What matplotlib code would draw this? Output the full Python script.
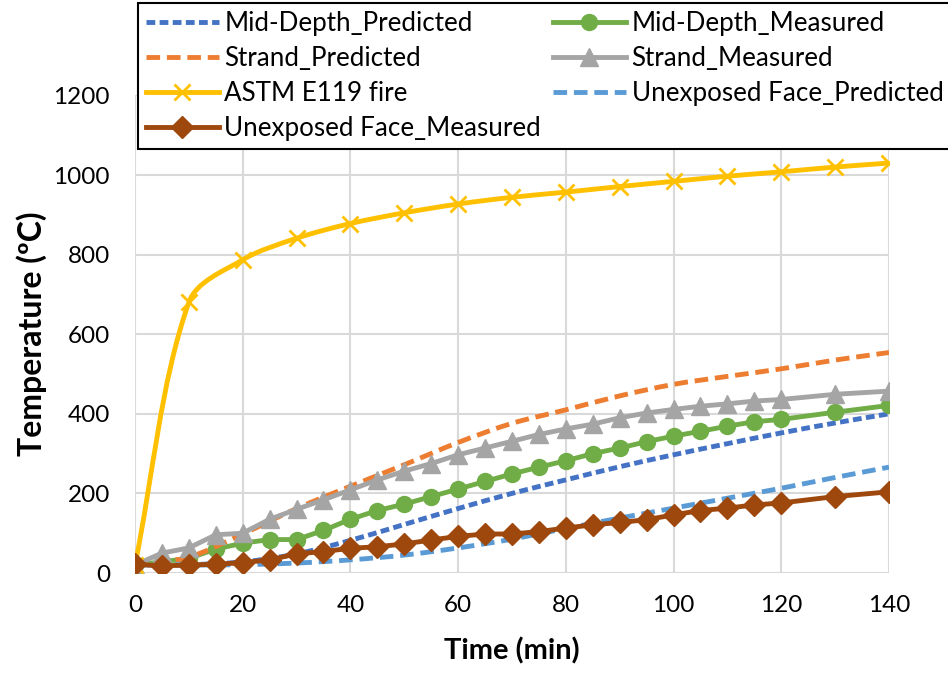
import numpy as np
import matplotlib
matplotlib.use("Agg")
import matplotlib.pyplot as plt
from matplotlib.path import Path
from matplotlib.patches import PathPatch
from matplotlib.lines import Line2D

plt.rcParams["font.family"] = ["Lato", "DejaVu Sans"]

# --- data -------------------------------------------------------------
t_fire = [0, 10, 20, 30, 40, 50, 60, 70, 80, 90, 100, 110, 120, 130, 140]
astm_fire = [20, 680, 787, 841, 878, 905, 927, 944, 957, 971, 984, 997, 1008, 1020, 1030]

t_pred = [0, 10, 20, 30, 40, 50, 60, 70, 80, 90, 100, 110, 120, 130, 140]
mid_pred = [20, 21, 28, 48, 82, 122, 162, 200, 234, 267, 297, 325, 352, 377, 400]
strand_pred = [20, 40, 98, 162, 218, 272, 328, 376, 410, 445, 474, 494, 513, 535, 554]
unexp_pred = [20, 20, 21, 25, 33, 45, 63, 85, 112, 138, 163, 188, 213, 240, 266]

t_meas = [0, 5, 10, 15, 20, 25, 30, 35, 40, 45, 50, 55, 60, 65, 70, 75, 80,
          85, 90, 95, 100, 105, 110, 115, 120, 130, 140]
mid_meas = [20, 28, 37, 60, 75, 84, 84, 107, 135, 157, 173, 192, 211, 230, 249, 266, 282,
            300, 314, 330, 344, 356, 369, 380, 386, 404, 421]
strand_meas = [20, 50, 63, 96, 100, 135, 160, 184, 209, 234, 256, 275, 297, 314, 331, 348, 362,
               374, 390, 402, 411, 419, 425, 432, 436, 449, 457]
unexp_meas = [22, 18, 20, 22, 26, 33, 48, 54, 62, 66, 73, 83, 92, 98, 98, 104, 113,
              121, 127, 134, 146, 157, 163, 171, 176, 192, 204]

C_MID_P = "#4472C4"
C_STRAND_P = "#ED7D31"
C_FIRE = "#FFC000"
C_UNEXP_P = "#5B9BD5"
C_MID_M = "#70AD47"
C_STRAND_M = "#A5A5A5"
C_UNEXP_M = "#9E480E"


def smooth_path(ax, x, y):
    """Excel-style smoothed line: cubic Bezier through the points, with
    control arms weighted by the on-screen segment lengths."""
    p = ax.transData.transform(np.column_stack([x, y]).astype(float))
    n = len(p)
    ext = np.vstack([p[0], p, p[-1]])
    seg = np.hypot(*np.diff(ext, axis=0).T)
    verts = [p[0]]
    codes = [Path.MOVETO]
    ctrl_out, ctrl_in = [], []
    for i in range(n):
        tan = ext[i + 2] - ext[i]
        d_prev, d_next = seg[i], seg[i + 1]
        tot = d_prev + d_next if d_prev + d_next > 0 else 1.0
        ctrl_out.append(p[i] + tan * d_next / tot / 3.0)
        ctrl_in.append(p[i] - tan * d_prev / tot / 3.0)
    for i in range(n - 1):
        verts += [ctrl_out[i], ctrl_in[i + 1], p[i + 1]]
        codes += [Path.CURVE4] * 3
    inv = ax.transData.inverted()
    return Path(inv.transform(np.array(verts)), codes)


fig = plt.figure(figsize=(9.48, 6.75), dpi=100)
ax = fig.add_axes([135 / 948, 1 - 573 / 675, (889 - 135) / 948, (573 - 95.4) / 675])
ax.set_xlim(0, 140)
ax.set_ylim(0, 1200)

LW = 3.5
MS = 11.5
dash_short = (0, (1.8, 0.9))
dash_long = (0, (2.8, 1.4))

ax.add_patch(PathPatch(smooth_path(ax, t_pred, mid_pred), fill=False, ec=C_MID_P,
                       lw=LW, ls=dash_short, zorder=3))
ax.plot(t_meas, mid_meas, color=C_MID_M, lw=LW, marker="o", ms=MS, zorder=4)
ax.add_patch(PathPatch(smooth_path(ax, t_pred, strand_pred), fill=False, ec=C_STRAND_P,
                       lw=LW, ls=dash_long, zorder=5))
ax.plot(t_meas, strand_meas, color=C_STRAND_M, lw=LW, marker="^", ms=12.5, zorder=6)
ax.add_patch(PathPatch(smooth_path(ax, t_fire, astm_fire), fill=False, ec=C_FIRE,
                       lw=LW, zorder=7))
ax.plot(t_fire, astm_fire, ls="none", marker="x", ms=12, mew=2, color=C_FIRE, zorder=7)
ax.add_patch(PathPatch(smooth_path(ax, t_pred, unexp_pred), fill=False, ec=C_UNEXP_P,
                       lw=LW, ls=dash_long, zorder=8))
ax.plot(t_meas, unexp_meas, color=C_UNEXP_M, lw=LW, marker="D", ms=11, zorder=9)

ax.set_xticks(np.arange(0, 141, 20))
ax.set_yticks(np.arange(0, 1201, 200))
ax.grid(True, color="#D9D9D9", lw=1.5)
ax.set_axisbelow(True)
for s in ax.spines.values():
    s.set_visible(False)
ax.tick_params(length=0, labelsize=17.5)
ax.tick_params(axis="y", pad=18)
ax.tick_params(axis="x", pad=16)
ax.set_xlabel("Time (min)", fontsize=21, fontweight="bold", labelpad=15)
ax.set_ylabel("Temperature (ºC)", fontsize=23, fontweight="bold", labelpad=5)

handles = [
    Line2D([], [], color=C_MID_P, lw=LW, ls=dash_short),
    Line2D([], [], color=C_STRAND_P, lw=LW, ls=dash_long),
    Line2D([], [], color=C_FIRE, lw=LW, marker="x", ms=12, mew=2),
    Line2D([], [], color=C_UNEXP_M, lw=LW, marker="D", ms=11),
    Line2D([], [], color=C_MID_M, lw=LW, marker="o", ms=MS),
    Line2D([], [], color=C_STRAND_M, lw=LW, marker="^", ms=12.5),
    Line2D([], [], color=C_UNEXP_P, lw=LW, ls=dash_long),
]
labels = ["Mid-Depth_Predicted", "Strand_Predicted", "ASTM E119 fire",
          "Unexposed Face_Measured", "Mid-Depth_Measured", "Strand_Measured",
          "Unexposed Face_Predicted"]
leg = fig.legend(handles, labels, ncol=2, loc="upper left",
                 bbox_to_anchor=(138 / 948, 1 - 3 / 675), fontsize=18.7,
                 frameon=True, fancybox=False, edgecolor="black", framealpha=1,
                 handlelength=2.8, handletextpad=0.23, columnspacing=0.45,
                 labelspacing=0.39, borderpad=0.3, borderaxespad=0)
leg.get_frame().set_linewidth(1.5)

fig.savefig("out.png", dpi=100)
